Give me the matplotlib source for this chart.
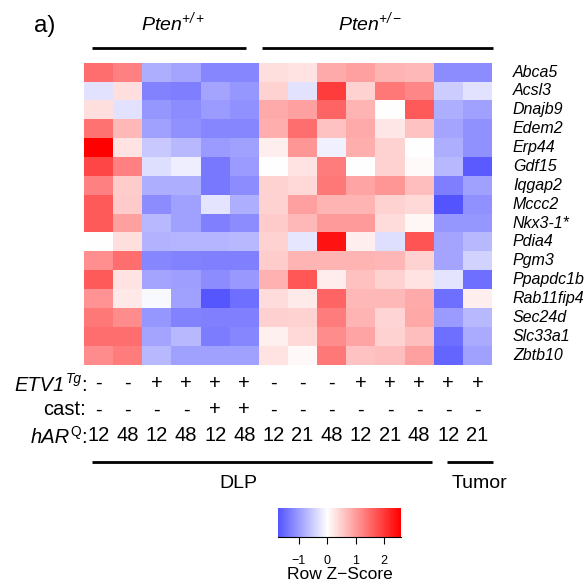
import numpy as np
import matplotlib
matplotlib.use('Agg')
import matplotlib.pyplot as plt
from matplotlib.colors import LinearSegmentedColormap

##fonts (Arial-like)
plt.rcParams['font.family'] = ['Liberation Sans', 'DejaVu Sans']
plt.rcParams['mathtext.fontset'] = 'custom'
plt.rcParams['mathtext.rm'] = 'Liberation Sans:italic'
plt.rcParams['mathtext.it'] = 'Liberation Sans:italic'
plt.rcParams['mathtext.bf'] = 'Liberation Sans:bold'

###data
genes = ['Abca5', 'Acsl3', 'Dnajb9', 'Edem2', 'Erp44', 'Gdf15', 'Iqgap2', 'Mccc2',
         'Nkx3-1*', 'Pdia4', 'Pgm3', 'Ppapdc1b', 'Rab11fip4', 'Sec24d', 'Slc33a1', 'Zbtb10']
etv1 = ['-', '-', '+', '+', '+', '+', '-', '-', '-', '+', '+', '+', '+', '+']
cast = ['-', '-', '-', '-', '+', '+', '-', '-', '-', '-', '-', '-', '-', '-']
har = ['12', '48', '12', '48', '12', '48', '12', '21', '48', '12', '21', '48', '12', '21']

zscores = np.array([
    [1.47, 1.27, -0.81, -0.91, -1.21, -1.21, 0.33, 0.30, 0.86, 0.96, 0.76, 0.71, -1.16, -1.16],
    [-0.30, 0.33, -1.26, -1.31, -0.91, -1.06, 0.46, -0.30, 1.97, 0.46, 1.37, 1.21, -0.51, -0.30],
    [0.33, -0.30, -1.06, -1.16, -1.01, -1.11, 0.86, 0.96, 1.57, 0.76, 0.00, 1.67, -0.81, -0.96],
    [1.42, 0.71, -0.96, -1.11, -1.21, -1.21, 0.81, 1.47, 0.61, 0.86, 0.25, 0.61, -0.91, -1.11],
    [2.58, 0.30, -0.56, -0.71, -1.01, -0.96, 0.17, 1.06, -0.15, 0.81, 0.46, 0.00, -0.81, -1.11],
    [1.87, 1.27, -0.33, -0.17, -1.37, -1.01, 0.00, 0.30, 1.32, 0.00, 0.46, 0.05, -0.71, -1.67],
    [1.27, 0.51, -0.81, -0.81, -1.37, -1.16, 0.46, 0.40, 1.37, 0.91, 1.06, 0.66, -1.31, -0.96],
    [1.67, 0.53, -1.16, -0.96, -0.27, -0.81, 0.46, 0.96, 0.76, 0.76, 0.46, 0.40, -1.72, -1.11],
    [1.67, 0.96, -0.71, -0.96, -1.29, -1.16, 0.53, 0.71, 1.01, 1.01, 0.35, 0.10, -1.06, -1.06],
    [0.00, 0.33, -0.78, -0.76, -0.76, -0.71, 0.46, -0.26, 2.38, 0.18, -0.33, 1.72, -0.91, -0.71],
    [1.14, 1.47, -1.21, -1.26, -1.29, -1.29, 0.51, 0.76, 0.76, 0.76, 0.73, 0.46, -0.91, -0.46],
    [1.67, 0.30, -0.91, -0.98, -1.16, -1.03, 0.79, 1.70, 0.20, 0.64, 0.46, 0.30, -0.27, -1.47],
    [1.09, 0.24, -0.07, -0.96, -1.70, -1.47, 0.35, 0.21, 1.57, 0.71, 0.71, 0.86, -1.47, 0.17],
    [1.37, 1.16, -1.06, -1.26, -1.29, -1.29, 0.48, 0.46, 1.32, 0.76, 0.43, 0.88, -1.01, -0.71],
    [1.47, 1.47, -0.91, -0.71, -1.32, -1.21, 0.15, 0.40, 1.16, 0.91, 0.46, 0.66, -1.47, -0.86],
    [1.16, 1.32, -0.71, -0.96, -0.96, -0.96, 0.30, 0.07, 1.37, 0.61, 0.66, 0.96, -1.57, -0.96],
])

zmax = 2.58
key_range = (-1.72, 2.58)

cmap = LinearSegmentedColormap.from_list('bwr_key', ['#0000FF', '#FFFFFF', '#FF0000'])


def sup_label(ax, x, y, main, sup, fs, sup_style='italic'):
    '''
    right aligned label "main^sup:" built from pieces, right to left
    '''
    colon = ax.text(x, y, ':', ha='right', va='baseline', fontsize=fs)
    s = ax.annotate(sup, xy=(0, 0), xycoords=colon, xytext=(0.5, fs*0.42),
                    textcoords='offset points', ha='right', va='bottom',
                    fontsize=fs*0.68, style=sup_style)
    ax.annotate(main, xy=(0, 0), xycoords=(s, colon), xytext=(-0.5, 0),
                textcoords='offset points', ha='right', va='bottom',
                fontsize=fs, style='italic')


fig = plt.figure(figsize=(5.87, 5.88), dpi=100)

###heatmap
ax = fig.add_axes([84/587, 1 - 364.5/588, 408/587, 301.8/588])
ncol = zscores.shape[1]
nrow = zscores.shape[0]
ax.pcolormesh(np.arange(ncol + 1), np.arange(nrow + 1), zscores,
              cmap=cmap, vmin=-zmax, vmax=zmax)
ax.set_xlim(0, ncol)
ax.set_ylim(nrow, 0)
ax.axis('off')

##gene names
for r, g in enumerate(genes):
    ax.text(14.72, r + 0.5, g, ha='left', va='center', style='italic',
            fontsize=11.5, clip_on=False)

##top groups
ax.text(-1.36, -1.97, 'a)', ha='center', va='center', fontsize=17.5)
ax.text(3.05, -2.13, r'$Pten^{+/+}$', ha='center', va='center', fontsize=14)
ax.text(9.81, -2.13, r'$Pten^{+/-}$', ha='center', va='center', fontsize=14)
ax.plot([0.27, 5.56], [-0.78, -0.78], color='black', lw=2, clip_on=False,
        solid_capstyle='butt')
ax.plot([6.11, 14.05], [-0.78, -0.78], color='black', lw=2, clip_on=False,
        solid_capstyle='butt')

##sample annotations
fs_ann = 14.5
rows_y = {'etv1': 17.02, 'cast': 18.41, 'har': 19.79}
base_shift = 0.38  # from row centre to text baseline, in rows
sup_label(ax, 0.08, rows_y['etv1'] + base_shift, 'ETV1', 'Tg', fs_ann)
ax.text(0.08, rows_y['cast'], 'cast:', ha='right', va='center', fontsize=fs_ann)
sup_label(ax, 0.08, rows_y['har'] + base_shift, 'hAR', 'Q', fs_ann, sup_style='normal')
for i in range(ncol):
    ax.text(i + 0.5, rows_y['etv1'], etv1[i], ha='center', va='center', fontsize=fs_ann)
    ax.text(i + 0.5, rows_y['cast'], cast[i], ha='center', va='center', fontsize=fs_ann)
    ax.text(i + 0.5, rows_y['har'], har[i], ha='center', va='center', fontsize=fs_ann)

##tissue lines
ax.plot([0.26, 11.93], [21.16, 21.16], color='black', lw=2, clip_on=False,
        solid_capstyle='butt')
ax.plot([12.44, 14.04], [21.16, 21.16], color='black', lw=2, clip_on=False,
        solid_capstyle='butt')
ax.text(5.30, 22.3, 'DLP', ha='center', va='center', fontsize=14)
ax.text(13.57, 22.3, 'Tumor', ha='center', va='center', fontsize=14)

###color key
cax = fig.add_axes([278.3/587, 1 - 536.7/588, 122.4/587, 28.4/588])
grad = np.linspace(key_range[0], key_range[1], 256).reshape(1, -1)
cax.imshow(grad, cmap=cmap, vmin=-zmax, vmax=zmax, aspect='auto',
           extent=[key_range[0], key_range[1], 0, 1])
cax.set_xlim(*key_range)
cax.set_yticks([])
cax.set_xticks([-1, 0, 1, 2])
cax.set_xticklabels(['\u22121', '0', '1', '2'])
cax.tick_params(axis='x', length=5, width=0.8, pad=8, labelsize=9)
for side in ['top', 'left', 'right']:
    cax.spines[side].set_visible(False)
fig.text(340.3/587, 1 - 574.3/588, 'Row Z\u2212Score', ha='center', va='center', fontsize=12.5)

fig.savefig('out.png', dpi=100)
